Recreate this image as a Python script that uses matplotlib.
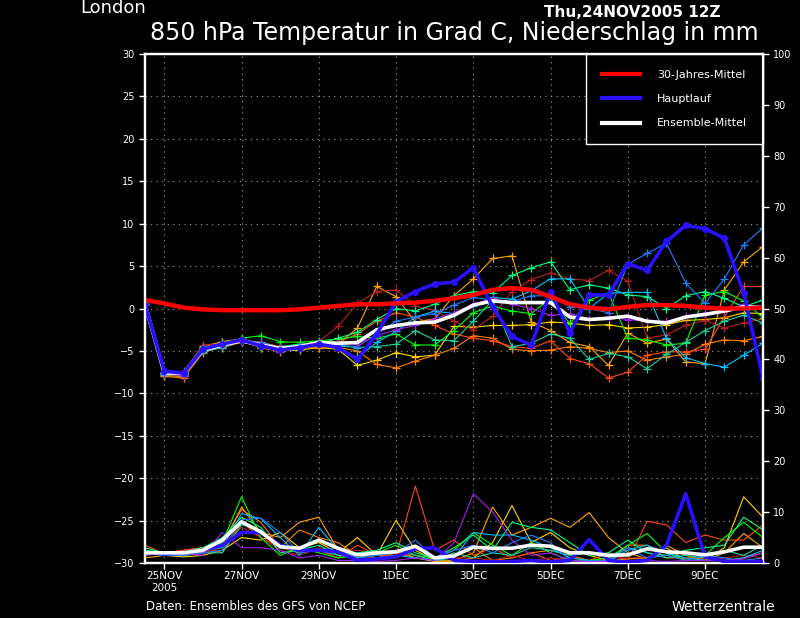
import matplotlib
matplotlib.use("Agg")
import matplotlib.pyplot as plt
import numpy as np

# time axis: 12-hourly steps from 24NOV2005 12Z
steps = np.arange(33)
tick_steps = [1, 5, 9, 13, 17, 21, 25, 29]
tick_labels = ["25NOV\n2005", "27NOV", "29NOV", "1DEC", "3DEC", "5DEC", "7DEC", "9DEC"]

# 850 hPa temperature (deg C)
clim_temp = [1.0, 0.6, 0.1, -0.1, -0.2, -0.2, -0.2, -0.2, -0.1, 0.1, 0.3, 0.5, 0.5, 0.6, 0.7, 0.9, 1.2,
             1.6, 2.2, 2.4, 2.2, 1.4, 0.5, 0.1, -0.1, 0.2, 0.4, 0.4, 0.3, 0.1, 0.0, 0.0, 0.1]
main_temp = [0.5, -7.4, -7.6, -4.8, -4.2, -3.7, -4.4, -4.9, -4.6, -4.2, -4.6, -6.0, -3.0, 0.8, 2.0, 2.9, 3.1,
             4.8, 0.2, -3.3, -4.3, 2.0, -2.9, 1.6, 1.6, 5.3, 4.5, 7.9, 9.8, 9.4, 8.3, 1.8, -8.2]
mean_temp = [0.5, -7.6, -7.6, -4.9, -4.3, -3.8, -4.3, -4.7, -4.5, -4.0, -4.1, -4.0, -2.5, -2.0, -1.7, -1.6, -0.8,
             0.4, 0.9, 0.7, 0.7, 0.7, -1.0, -1.3, -1.15, -0.9, -1.5, -1.7, -1.0, -0.7, -0.3, 0.2, 0.1]

member_colors = ["#ffd700", "#ffa500", "#ff8000", "#ff4a10", "#b82020", "#00ff00",
                 "#00ff80", "#20d0a0", "#00c0ff", "#1e80ff", "#a020f0"]

member_temp = [
    [0.5, -7.9, -8.0, -4.6, -3.9, -3.6, -4.6, -5.0, -4.9, -4.6, -4.8, -6.7, -6.1, -5.2, -5.7, -5.5, -2.1,
     -2.2, -2.0, -2.0, -1.9, -1.6, -1.7, -2.0, -1.9, -2.3, -2.2, -1.9, -1.4, -1.3, -1.1, -0.5, -0.6],
    [0.5, -7.7, -7.7, -4.4, -4.0, -3.7, -4.0, -4.5, -4.8, -4.3, -4.2, -2.3, 2.6, 1.4, -1.6, -1.2, 1.5,
     3.5, 5.9, 6.2, -1.6, -2.6, -4.0, -4.5, -6.7, -2.9, -4.1, -3.6, -6.3, -6.5, 2.2, 5.5, 7.3],
    [0.5, -8.0, -8.2, -5.2, -4.5, -3.9, -4.6, -5.1, -4.5, -4.6, -4.6, -5.0, -6.6, -7.0, -6.2, -5.5, -4.7,
     -3.2, -3.5, -4.8, -5.0, -4.9, -4.5, -4.7, -5.2, -5.0, -6.1, -5.7, -5.4, -4.2, -3.7, -3.8, -3.3],
    [0.5, -7.8, -7.9, -4.8, -4.6, -4.0, -4.2, -4.8, -4.3, -3.9, -4.0, -3.0, -1.5, -0.5, -1.0, -2.0, -3.0,
     -3.5, -3.8, -4.5, -4.7, -3.8, -5.9, -6.5, -8.2, -7.5, -5.5, -5.1, -5.1, -4.8, -1.0, 2.6, 2.6],
    [0.5, -7.5, -7.4, -4.3, -4.2, -3.8, -4.3, -4.4, -4.6, -3.9, -2.1, 0.6, 2.0, 2.2, 0.3, -0.2, -1.5,
     -2.5, -0.9, 2.0, 3.4, 4.2, 3.5, 3.3, 4.5, 3.2, -3.5, -3.1, -2.0, -1.4, -2.3, -1.7, -1.2],
    [0.5, -7.6, -7.5, -4.5, -4.4, -3.5, -3.2, -3.9, -4.0, -3.8, -3.6, -3.3, -3.5, -3.0, -4.3, -4.3, -2.6,
     -0.5, 0.3, -0.3, -0.6, 1.2, -1.8, 1.0, 1.8, -3.5, -3.7, -4.3, -4.1, 1.6, 2.0, 0.9, -1.1],
    [0.5, -7.7, -7.6, -5.0, -4.2, -3.7, -4.5, -4.5, -4.2, -4.2, -3.5, -2.8, -1.3, 0.0, -0.3, 0.5, 1.5,
     2.0, 1.8, 3.9, 4.8, 5.5, 2.2, 2.8, 2.4, 1.6, 1.4, 0.0, 1.5, 2.0, 1.2, 0.2, 1.0],
    [0.5, -7.8, -7.8, -5.1, -4.6, -3.9, -4.4, -4.9, -4.7, -4.0, -4.4, -4.6, -4.5, -4.2, -2.6, -3.7, -3.8,
     -1.5, 1.0, -4.5, -4.1, -3.0, -3.5, -6.0, -5.3, -5.7, -7.1, -5.4, -4.0, -2.6, -1.5, -0.8, -1.7],
    [0.5, -7.5, -7.6, -4.9, -4.1, -3.9, -4.4, -4.7, -4.3, -3.9, -4.7, -5.8, -4.0, -2.7, -1.0, -0.3, -0.6,
     0.3, 1.3, 1.1, 2.1, 3.5, 3.5, 0.0, 1.8, 1.9, 1.9, -3.5, -5.8, -6.5, -6.9, -5.5, -4.1],
    [0.5, -7.6, -7.8, -4.8, -4.3, -3.8, -4.0, -4.6, -4.6, -4.2, -4.3, -4.5, -3.0, -1.5, -1.0, -0.6, 0.4,
     1.3, 1.0, 0.8, 1.5, 1.5, 0.2, 0.0, -0.5, 5.2, 6.5, 7.7, 3.0, 0.6, 3.5, 7.5, 9.5],
    [0.5, -7.7, -7.9, -4.7, -4.3, -3.9, -4.2, -4.6, -4.4, -4.1, -4.1, -4.2, -3.2, -2.5, -2.0, -1.2, -0.5,
     0.5, 1.2, 0.5, 0.0, -0.8, -0.6, -1.2, -1.0, -1.3, -1.5, -1.5, -0.9, -0.5, -0.3, 0.5, 0.2],
]

# precipitation (mm, right axis)
main_prec = [2.0, 1.8, 2.0, 2.5, 3.5, 6.0, 6.0, 3.5, 2.5, 2.5, 2.2, 0.5, 0.8, 1.2, 2.8, 3.0, 0.5,
             0.3, 0.2, 0.3, 0.5, 0.2, 0.5, 4.6, 0.5, 0.2, 0.5, 3.5, 13.6, 1.2, 0.3, 0.2, 0.3]
mean_prec = [2.0, 2.0, 2.0, 2.5, 4.5, 8.1, 6.1, 3.2, 2.9, 4.5, 2.9, 1.6, 2.0, 2.2, 3.3, 1.0, 1.4,
             3.1, 2.9, 2.9, 3.5, 3.3, 2.0, 2.0, 1.5, 1.6, 2.8, 2.2, 2.0, 1.6, 2.2, 3.1, 3.1]
member_prec = [
    [2.0, 1.5, 1.2, 1.5, 2.5, 5.0, 4.5, 6.0, 3.0, 4.0, 2.0, 5.0, 1.5, 8.4, 2.5, 0.5, 0.3,
     1.0, 4.0, 11.3, 4.0, 6.0, 3.0, 1.5, 0.5, 0.8, 1.0, 3.0, 0.5, 0.5, 3.0, 13.0, 9.0],
    [1.0, 1.5, 2.0, 2.0, 3.5, 11.0, 6.0, 5.0, 8.0, 9.0, 2.5, 1.0, 2.0, 2.5, 1.0, 0.3, 0.5,
     2.0, 11.0, 5.5, 7.0, 8.8, 7.0, 9.9, 5.0, 2.0, 0.8, 3.5, 1.5, 0.5, 2.0, 5.8, 3.0],
    [1.5, 2.0, 2.5, 3.0, 4.0, 10.5, 8.0, 3.0, 6.5, 5.0, 4.0, 1.5, 1.0, 2.0, 1.0, 0.5, 1.5,
     3.0, 0.5, 1.0, 2.0, 2.5, 1.5, 0.5, 0.5, 3.5, 3.5, 1.0, 1.0, 1.0, 0.5, 1.0, 2.0],
    [3.5, 1.8, 2.5, 3.0, 2.0, 8.0, 5.0, 3.0, 2.0, 2.5, 1.0, 3.5, 1.5, 1.5, 15.1, 2.5, 4.5,
     1.5, 3.0, 1.0, 2.0, 0.5, 1.0, 0.5, 2.0, 0.5, 8.2, 7.5, 4.0, 5.5, 4.5, 4.5, 7.5],
    [2.5, 2.0, 1.5, 2.0, 3.0, 7.0, 5.0, 2.5, 1.5, 3.0, 2.0, 2.5, 2.0, 2.0, 1.5, 0.5, 1.0,
     1.0, 0.5, 1.5, 0.5, 1.0, 0.5, 0.3, 1.0, 1.0, 1.0, 1.5, 1.0, 0.5, 1.0, 1.5, 1.0],
    [2.5, 2.0, 1.8, 2.5, 4.0, 13.0, 5.0, 1.5, 3.0, 2.0, 1.0, 1.5, 2.0, 3.5, 1.5, 1.0, 2.5,
     6.0, 3.5, 1.5, 4.0, 2.0, 0.5, 0.5, 1.0, 3.5, 5.8, 2.0, 0.5, 1.5, 5.0, 8.0, 5.0],
    [3.0, 2.0, 2.2, 3.0, 5.0, 9.0, 7.0, 2.0, 2.5, 3.5, 1.5, 2.0, 2.5, 4.0, 2.0, 1.0, 3.0,
     5.5, 2.5, 8.0, 7.0, 6.5, 4.0, 1.5, 2.0, 4.5, 2.0, 1.5, 2.5, 3.0, 3.5, 9.0, 6.5],
    [2.0, 1.5, 1.5, 2.0, 2.0, 7.5, 6.5, 3.0, 2.5, 2.5, 1.5, 1.0, 1.5, 2.5, 1.5, 0.5, 2.0,
     1.0, 2.0, 1.5, 3.0, 2.5, 1.5, 2.0, 1.0, 3.0, 2.0, 1.0, 1.5, 1.0, 2.5, 1.5, 3.5],
    [2.5, 1.5, 1.5, 2.5, 3.0, 9.7, 8.7, 5.0, 1.5, 7.0, 2.5, 0.5, 1.0, 1.5, 1.0, 0.5, 1.0,
     6.0, 5.5, 5.5, 4.5, 3.0, 1.0, 0.5, 0.3, 2.5, 3.5, 2.0, 1.0, 0.5, 0.5, 1.0, 2.5],
    [2.0, 1.5, 1.5, 2.0, 2.5, 8.5, 8.8, 6.0, 2.0, 2.5, 3.0, 1.0, 1.5, 2.0, 4.5, 1.0, 2.5,
     3.5, 2.0, 4.0, 5.5, 4.0, 0.5, 0.3, 0.5, 3.0, 1.0, 1.5, 0.5, 1.5, 1.0, 0.5, 1.0],
    [1.5, 2.0, 2.0, 1.5, 6.0, 3.0, 3.0, 2.5, 1.0, 1.5, 0.5, 0.5, 0.3, 0.5, 1.0, 0.5, 4.0,
     13.6, 10.0, 4.5, 1.5, 2.0, 0.5, 0.3, 0.3, 0.5, 0.5, 0.3, 0.5, 0.5, 0.5, 0.8, 2.0],
]

plt.rcParams["font.family"] = ["DejaVu Sans"]

fig = plt.figure(figsize=(8.0, 6.18), dpi=100, facecolor="black")
ax = fig.add_axes([0.18125, 0.089, 0.7725, 0.8236], facecolor="black")
ax2 = ax.twinx()

# temperature spaghetti
for col, vals in zip(member_colors, member_temp):
    ax.plot(steps, vals, color=col, lw=0.8, marker="+", ms=6, mew=0.9, zorder=2)
ax.plot(steps, mean_temp, color="white", lw=2.6, zorder=4, label="Ensemble-Mittel")
ax.plot(steps, main_temp, color="#2a10ff", lw=2.6, marker="o", ms=4, zorder=5, label="Hauptlauf")
ax.plot(steps, clim_temp, color="#ff0000", lw=3.2, zorder=6, label="30-Jahres-Mittel")

# precipitation
for col, vals in zip(member_colors, member_prec):
    ax2.plot(steps, vals, color=col, lw=0.8, zorder=2)
ax2.plot(steps, main_prec, color="#2a10ff", lw=2.6, zorder=4)
ax2.plot(steps, mean_prec, color="white", lw=2.6, zorder=5)

ax.set_xlim(0, 32)
ax.set_ylim(-30, 30)
ax2.set_ylim(0, 100)
ax.set_yticks(np.arange(-30, 31, 5))
ax2.set_yticks(np.arange(0, 101, 10))
ax.set_xticks(tick_steps)
ax.set_xticklabels(tick_labels)

ax.grid(True, color="#a0a0a0", linestyle=(0, (1, 4)), lw=0.8)
ax.set_axisbelow(True)

for a in (ax, ax2):
    for sp in a.spines.values():
        sp.set_color("white")
        sp.set_linewidth(1.6)
    a.tick_params(colors="white", labelsize=7, length=4, width=1, direction="out")
ax.tick_params(axis="x", labelsize=7.5, pad=2)

handles, labels = ax.get_legend_handles_labels()
leg = ax.legend(handles[::-1], labels[::-1], loc="upper right", borderaxespad=0.0,
                facecolor="black", edgecolor="white", fancybox=False, framealpha=1,
                labelcolor="white", fontsize=8, handlelength=3.4, handletextpad=1.6,
                labelspacing=1.3, borderpad=1.4)
leg.get_frame().set_linewidth(1.0)
for h in leg.get_lines():
    h.set_marker("")
    h.set_linewidth(3)
leg.set_zorder(10)

fig.text(0.141, 0.987, "London", color="white", fontsize=13, ha="center", va="center")
fig.text(0.79, 0.979, "Thu,24NOV2005 12Z", color="white", fontsize=11, ha="center",
         va="center", fontweight="bold")
fig.text(0.5675, 0.947, "850 hPa Temperatur in Grad C, Niederschlag in mm", color="white",
         fontsize=17, ha="center", va="center")
fig.text(0.1825, 0.018, "Daten: Ensembles des GFS von NCEP", color="white", fontsize=8.5,
         ha="left", va="center")
fig.text(0.969, 0.018, "Wetterzentrale", color="white", fontsize=10, ha="right", va="center")

fig.savefig("out.png", dpi=100, facecolor="black")
